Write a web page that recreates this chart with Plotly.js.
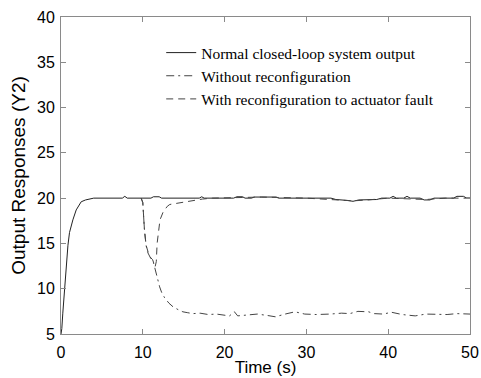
<!DOCTYPE html>
<html><head><meta charset="utf-8">
<script src="https://cdn.plot.ly/plotly-3.0.1.min.js"></script>
<style>html,body{margin:0;padding:0;background:#fff}#c{width:481px;height:378px}</style>
</head><body><div id="c"></div>
<script>
const normalT = [0, 0.1, 0.22, 0.43, 0.64, 0.85, 1.04, 1.25, 1.45, 1.86, 2.2, 2.47, 3.0, 3.5, 4.0, 7.5, 7.8, 8.1, 11.0, 11.3, 12.0, 12.3, 16.9, 17.2, 17.5, 21.1, 21.5, 22.2, 22.5, 23.3, 23.6, 26.3, 26.6, 33.0, 33.6, 35.0, 35.7, 36.4, 37.0, 38.6, 39.2, 40.2, 40.6, 41.0, 41.9, 42.3, 42.7, 43.9, 44.4, 45.1, 45.6, 48.0, 48.4, 49.2, 49.6, 50];
const normalY = [5, 5.6, 7.3, 10.1, 12.8, 14.8, 16.2, 17.0, 17.6, 18.7, 19.3, 19.6, 19.8, 19.9, 20, 20, 20.2, 20, 20, 20.15, 20.15, 20, 20, 20.15, 20, 20, 20.15, 20.15, 20, 20, 20.12, 20.12, 20, 20, 19.85, 19.75, 19.65, 19.8, 19.8, 19.85, 20, 20, 20.2, 20, 20, 20.2, 20, 20, 19.8, 19.8, 20, 20, 20.2, 20.2, 20, 20];

const withoutT = [9.8, 10.0, 10.2, 10.4, 10.6, 10.8, 11.0, 11.3, 11.45, 11.65, 12.06, 12.3, 12.67, 13.2, 13.7, 14.3, 14.9, 15.5, 16.1, 17.0, 18.0, 19.0, 20.0, 20.6, 21.2, 21.6, 22.8, 24.0, 25.2, 26.2, 27.4, 28.6, 29.8, 31.2, 32.9, 34.3, 35.3, 36.3, 37.6, 38.3, 39.4, 40.4, 41.7, 43.3, 44.6, 45.9, 47.2, 48.4, 49.1, 50];
const withoutY = [20, 19.5, 16.5, 14.8, 14.0, 13.6, 13.3, 12.9, 12.3, 11.5, 10.2, 9.6, 9.0, 8.4, 8.0, 7.7, 7.45, 7.35, 7.25, 7.3, 7.15, 7.2, 7.1, 7.0, 7.45, 7.0, 7.1, 7.2, 7.05, 6.9, 7.2, 7.45, 7.2, 7.15, 7.2, 7.3, 7.25, 7.5, 7.45, 7.25, 7.2, 7.4, 7.15, 7.0, 7.2, 7.2, 7.15, 7.25, 7.2, 7.2];

const withT = [9.8, 10.0, 10.2, 10.4, 10.8, 11.2, 11.5, 11.65, 11.75, 11.9, 12.1, 12.5, 13.0, 13.3, 14.0, 14.9, 15.7, 16.5, 17.3, 18.5, 22.0, 24.5, 30.0, 34.0, 35.7, 37.5, 40.0, 44.6, 47.0, 50];
const withY = [20, 19.5, 16.5, 14.8, 13.6, 13.2, 12.4, 13.0, 15.0, 16.5, 17.6, 18.5, 19.1, 19.3, 19.4, 19.5, 19.65, 19.8, 19.9, 20.0, 20.1, 20.12, 20, 19.8, 19.7, 19.8, 20, 19.85, 20, 20];

const legendNames = ["Normal closed-loop system output", "Without reconfiguration", "With reconfiguration to actuator fault"];
const xTicks = [0, 10, 20, 30, 40, 50];
const yTicks = [5, 10, 15, 20, 25, 30, 35, 40];

const traces = [
  {x: normalT, y: normalY, name: legendNames[0], mode: 'lines', line: {color: '#222', width: 1}},
  {x: withoutT, y: withoutY, name: legendNames[1], mode: 'lines', line: {color: '#444', width: 1, dash: '8px,4px,2px,4px'}},
  {x: withT, y: withY, name: legendNames[2], mode: 'lines', line: {color: '#444', width: 1, dash: '7px,5px'}}
];

const axisCommon = {
  showgrid: false, zeroline: false, showline: true, linecolor: '#8a8a8a', linewidth: 1,
  ticks: 'inside', ticklen: 5, tickcolor: '#8a8a8a', mirror: 'ticks',
  tickfont: {family: 'Liberation Sans, Arial, sans-serif', size: 16, color: '#000'}
};

const layout = {
  width: 481, height: 378,
  margin: {l: 61, r: 11, t: 17, b: 44},
  paper_bgcolor: '#fff', plot_bgcolor: '#fff',
  showlegend: true,
  legend: {x: 0.245, y: 0.94, xanchor: 'left', yanchor: 'top', bgcolor: 'rgba(0,0,0,0)',
    font: {family: 'Liberation Serif, Times New Roman, serif', size: 15.5, color: '#000'}, tracegroupgap: 0},
  xaxis: Object.assign({}, axisCommon, {range: [0, 50], tickvals: xTicks, ticktext: xTicks.map(String), ticklabelstandoff: 4,
    title: {text: 'Time (s)', font: {family: 'Liberation Sans, Arial, sans-serif', size: 17, color: '#000'}, standoff: 0}}),
  yaxis: Object.assign({}, axisCommon, {range: [5, 40], tickvals: yTicks, ticktext: yTicks.map(String), ticklabelstandoff: 2,
    title: {text: 'Output Responses (Y2)', font: {family: 'Liberation Sans, Arial, sans-serif', size: 19, color: '#000'}, standoff: 6}})
};

Plotly.newPlot('c', traces, layout, {displayModeBar: false, staticPlot: true});
</script></body></html>
